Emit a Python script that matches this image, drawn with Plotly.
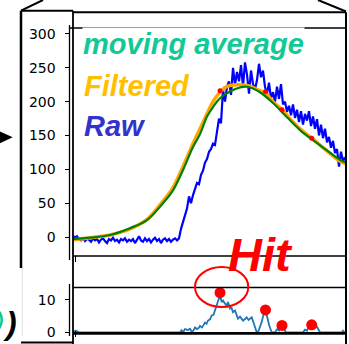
import plotly.graph_objects as go

W, H = 349, 344

# ---------------- data ----------------
raw_x = list(range(0, 273, 2))
raw_y = [2, -1, 1, -3, -5, -2, -6, -3, -4, -7, -2, -5, -3, -8, -4, -2, -6, -9, -3, -5,
         -1, -6, -4, -8, -3, -5, -2, -7, -4, -6, -3, -9, -4, 1, -5, -7, -2, -6, -3, -8,
         -4, -1, -6, -3, -9, -4, -2, -6, -3, -7, -4, -2, -5,
         -2, 12, 22, 35, 42, 60, 50, 62, 72, 80, 78, 92, 98, 110, 115, 126, 130, 138, 136,
         160, 175, 168, 218, 200, 222, 230, 210, 250, 225, 244, 230, 254, 222, 258, 240, 212,
         246, 226, 218, 232, 256, 236, 246, 222, 212, 228, 205, 214, 200, 222, 204, 226, 196,
         200, 185, 194, 180, 196, 176, 188, 170, 186, 166, 182, 172, 186, 164, 178, 160, 174,
         150, 166, 146, 160, 140, 148, 132, 142, 124, 130, 104, 126, 112, 118]

ma_x = [0, 17, 37, 57, 74, 90, 100, 110, 120, 127, 134, 140, 147, 157, 167, 174, 187, 200,
        214, 227, 240, 254, 267, 273]
ma_y = [-3, -1, 3, 13, 25, 50, 69, 99, 133, 152, 178, 192, 205, 215, 221, 222, 214, 198,
        177, 158, 143, 128, 114, 110]

filt_x = [0, 17, 37, 57, 74, 90, 100, 110, 120, 127, 134, 140, 147, 152, 157, 167, 177,
          187, 193, 200, 209, 220, 230, 239, 250, 260, 267, 273]
filt_y = [-4, -1, 3, 12, 26, 53, 73, 104, 138, 160, 182, 200, 214, 221, 224, 225, 223,
          216, 212, 200, 188, 170, 156, 146, 132, 120, 112, 108]

hit_x = [147, 192.5, 209, 238.7]
hit_top_y = [216, 215, 188, 146]
hit_peak_y = [12.2, 6.9, 2.1, 2.3]

sig_x = [0, 3, 6, 107, 108.5, 110, 112, 115, 117, 119, 120.5, 122, 124, 126, 127, 129,
         130.5, 132, 133.5, 135, 137, 138.7, 140.5, 142, 143.7, 145, 146.3, 147, 148.7, 150,
         152, 153.7, 155, 157, 158.5, 160, 162, 163.5, 165, 167, 168.7, 170, 172, 173.7,
         175.5, 177, 178.7, 180.5, 182, 183.7, 185.5, 187, 188.7, 190.3, 192, 194.3, 196.3,
         198.7, 202, 204.3, 206, 207, 208.7, 211, 213, 230, 232, 234, 235.3, 237, 238.7,
         240.5, 242, 244, 245.3, 247, 269, 270, 271.5, 273]
sig_y = [0.3, 0.5, 0, 0, 0.6, 0, 1, 0.7, 1.1, 0, 0.6, 1.5, 1, 1.4, 2, 1.5,
         2.2, 3, 2.6, 3.6, 4, 5.2, 5.4, 6.7, 8.3, 9.5, 10.9, 11.4, 9.3, 9.8,
         8.8, 8.3, 9.3, 7.3, 7.6, 6.2, 6.7, 5.2, 4.2, 4.8, 4.2, 3.6, 4.1, 4.6,
         3.8, 4.2, 4.6, 3, 1.5, 0, 0.4, 1.5, 3.2, 5.2, 6.7, 4.6, 2,
         0, 0, 1, 0.6, 2, 2.6, 1.1, 0, 0, 0.8, 0.5, 1.5, 1.2, 2.6,
         1.8, 1.5, 1.7, 1, 0, 0, 0.5, 0, 0]

top_ticks = [0, 50, 100, 150, 200, 250, 300]
bot_ticks = [0, 10]

# ---------------- helpers (pixel -> paper) ----------------
def PX(x):
    return x / W

def PY(y):
    return 1 - y / H

fig = go.Figure()

fig.add_trace(go.Scatter(x=raw_x, y=raw_y, mode="lines", line=dict(color="#0000ff", width=2.2),
                         xaxis="x", yaxis="y", showlegend=False))
fig.add_trace(go.Scatter(x=filt_x, y=filt_y, mode="lines", line=dict(color="#ffa500", width=3.5, shape="spline"),
                         xaxis="x", yaxis="y", showlegend=False))
fig.add_trace(go.Scatter(x=ma_x, y=ma_y, mode="lines", line=dict(color="#008000", width=2.2, shape="spline"),
                         xaxis="x", yaxis="y", showlegend=False))
fig.add_trace(go.Scatter(x=hit_x, y=hit_top_y, mode="markers", marker=dict(color="red", size=5),
                         xaxis="x", yaxis="y", showlegend=False))

fig.add_trace(go.Scatter(x=sig_x, y=sig_y, mode="lines", line=dict(color="#1f77b4", width=1.8),
                         xaxis="x2", yaxis="y2", showlegend=False))
fig.add_trace(go.Scatter(x=hit_x, y=hit_peak_y, mode="markers", marker=dict(color="red", size=11),
                         xaxis="x2", yaxis="y2", showlegend=False))

# axes geometry (pixels)
x_left, x_right = 73, 346
top_py0, top_py1 = 28, 256
zero_top, px_per_unit_top = 237, 0.6767
bot_py0, bot_py1 = 287.5, 333
zero_bot, px_per_unit_bot = 332.3, 3.25

top_range = [-(top_py1 - zero_top) / px_per_unit_top, (zero_top - top_py0) / px_per_unit_top]
bot_range = [-(bot_py1 - zero_bot) / px_per_unit_bot, (zero_bot - bot_py0) / px_per_unit_bot]

tickfont = dict(family="DejaVu Sans", size=14, color="black")
yax_common = dict(anchor="free", position=PX(69.5), ticks="outside", ticklen=5, tickwidth=1.3,
                  tickcolor="black", showline=False, showgrid=False, zeroline=False,
                  tickfont=tickfont, automargin=False, ticklabelstandoff=6)

fig.update_layout(
    width=W, height=H, autosize=False,
    margin=dict(l=0, r=0, t=0, b=0, pad=0, autoexpand=False),
    paper_bgcolor="white", plot_bgcolor="rgba(0,0,0,0)",
    xaxis=dict(domain=[PX(x_left), PX(x_right)], range=[0, 273], visible=False, anchor="y",
               automargin=False),
    xaxis2=dict(domain=[PX(x_left), PX(x_right)], range=[0, 273], visible=False, anchor="y2",
                automargin=False),
    yaxis=dict(domain=[PY(top_py1), PY(top_py0)], range=top_range, tickvals=top_ticks, **yax_common),
    yaxis2=dict(domain=[PY(bot_py1), PY(bot_py0)], range=bot_range, tickvals=bot_ticks, **yax_common),
)

def line(x0, y0, x1, y1, w=2, color="black"):
    fig.add_shape(type="line", xref="paper", yref="paper", x0=PX(x0), y0=PY(y0), x1=PX(x1), y1=PY(y1),
                  line=dict(color=color, width=w))

# outer frame / decoration
line(21, 10.7, 43, 0, 2)
line(318, 0, 346, 11.5, 2)
line(21, 10.7, 73, 10.7, 2)
line(21, 10.7, 21, 268, 2.5)
line(22.3, 268, 22.3, 336, 0.6, "#cccccc")
line(73, 10.7, 73, 344, 1.8)
line(73, 12.3, 346, 12.3, 2)
line(346, 12.3, 346, 344, 2)
line(21, 342.5, 73, 342.5, 2)
# axes lines
line(69.5, 25, 69.5, 260, 1.3)
line(69.5, 284, 69.5, 336, 1.3)
line(69.5, 28, 346, 28, 1.3)
line(73, 256, 346, 256, 1.5)
line(73, 287.5, 346, 287.5, 1.5)
line(73, 333.4, 346, 333.4, 2.8)
line(75.5, 256, 75.5, 262, 1)
line(75.5, 331, 75.5, 337, 1)

# arrow head at left
fig.add_shape(type="path", xref="paper", yref="paper",
              path=f"M {PX(0)},{PY(131.5)} L {PX(12.7)},{PY(137.3)} L {PX(0)},{PY(143.3)} Z",
              fillcolor="black", line=dict(color="black", width=0))

# teal fragment of a clipped letter at far left
fig.add_shape(type="path", xref="paper", yref="paper",
              path=f"M {PX(-0.5)},{PY(312)} Q {PX(4)},{PY(320)} {PX(-0.5)},{PY(328)}",
              line=dict(color="#10c995", width=2.6))

# ellipse around first hit
fig.add_shape(type="circle", xref="paper", yref="paper", x0=PX(195), x1=PX(248.3), y0=PY(307), y1=PY(267),
              line=dict(color="red", width=2))

LEG = "Liberation Sans"
fig.add_annotation(xref="paper", yref="paper", x=PX(82), y=PY(44), xanchor="left", yanchor="middle",
                   text="<b><i>moving average</i></b>", showarrow=False, bgcolor="white", borderpad=0,
                   font=dict(family=LEG, size=29, color="#10c995"))
fig.add_annotation(xref="paper", yref="paper", x=PX(82), y=PY(86), xanchor="left", yanchor="middle",
                   text="<b><i>Filtered</i></b>", showarrow=False,
                   font=dict(family=LEG, size=29, color="#ffbf00"))
fig.add_annotation(xref="paper", yref="paper", x=PX(82), y=PY(126), xanchor="left", yanchor="middle",
                   text="<b><i>Raw</i></b>", showarrow=False,
                   font=dict(family=LEG, size=29, color="#3333cc"))
fig.add_annotation(xref="paper", yref="paper", x=PX(260), y=PY(254), xanchor="center", yanchor="middle",
                   text="<b><i>Hit</i></b>", showarrow=False,
                   font=dict(family=LEG, size=47, color="red"))
fig.add_annotation(xref="paper", yref="paper", x=PX(0.5), y=PY(323), xanchor="left", yanchor="middle",
                   text="<b><i>)</i></b>", showarrow=False,
                   font=dict(family=LEG, size=32, color="black"))

fig.write_html(
    "out.html",
    post_script=(
        "document.documentElement.style.margin='0';"
        "document.documentElement.style.padding='0';"
        "document.documentElement.style.overflow='hidden';"
        "document.body.style.margin='0';"
        "document.body.style.padding='0';"
        "document.body.style.overflow='hidden';"
    ),
)
